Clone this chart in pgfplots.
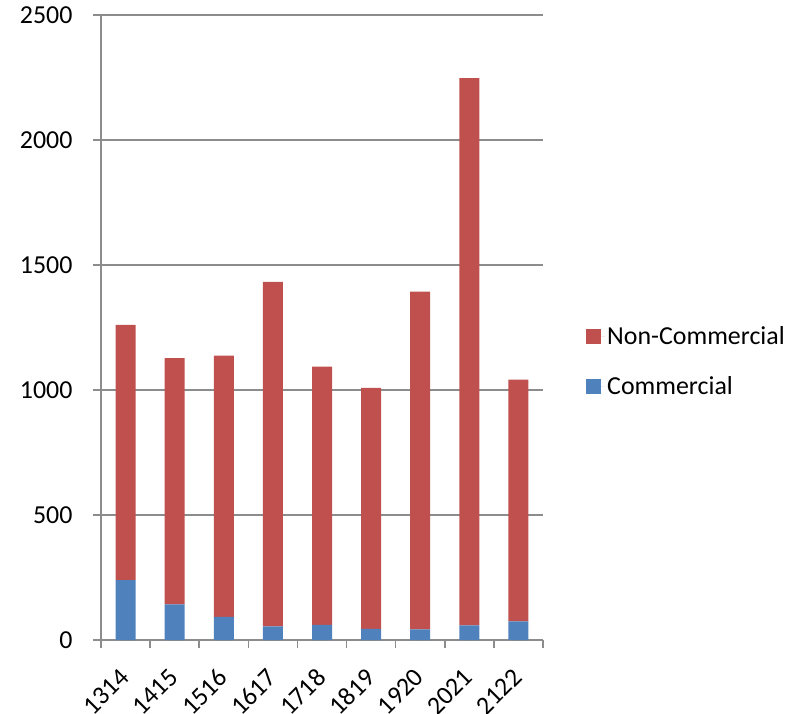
\documentclass[border=0pt]{standalone}
\usepackage{pgfplots}
\pgfplotsset{compat=1.18}
\usepackage{fontspec}
\setmainfont{Carlito}
\definecolor{ncred}{HTML}{C0504D}
\definecolor{cblue}{HTML}{4F81BD}
\definecolor{gridgray}{HTML}{8C8C8C}
\begin{document}
\begin{tikzpicture}
\begin{axis}[
  scale only axis, width=442bp, height=625bp,
  ybar stacked, bar width=20bp,
  xmin=-0.5, xmax=8.5, ymin=0, ymax=2500,
  ytick={0,500,1000,1500,2000,2500},
  xtick={0,1,2,3,4,5,6,7,8},
  xticklabels={1314,1415,1516,1617,1718,1819,1920,2021,2122},
  minor xtick={-0.5,0.5,1.5,2.5,3.5,4.5,5.5,6.5,7.5,8.5},
  axis x line*=bottom, axis y line*=left,
  axis line style={gridgray, line width=1.5bp, -},
  ymajorgrids, grid style={gridgray, line width=1.5bp},
  tick style={gridgray, line width=1.5bp},
  major x tick style={draw=none},
  tick align=outside, major tick length=8bp, minor tick length=8bp,
  /pgf/number format/assume math mode=true,
  scaled y ticks=false,
  ticklabel style={font=\fontsize{26}{31}\selectfont, text=black},
  yticklabel style={/pgf/number format/1000 sep={}, xshift=-17bp},
  xticklabel style={xshift=-7bp, yshift=-16bp, rotate=45, anchor=north east, inner sep=2bp},
  legend style={at={(1,0.446)}, anchor=west, xshift=43bp, draw=none, fill=none,
    font=\fontsize{26}{31}\selectfont, row sep=27bp, inner xsep=0pt,
    /tikz/every even column/.append style={column sep=0bp}},
  legend cell align=left,
  reverse legend,
  legend image code/.code={\fill[#1] (0bp,-7.5bp) rectangle (15bp,7.5bp); \path (0bp,0bp) -- (19bp,0bp);},
]
\addplot[fill=cblue, draw=none] coordinates {(0,240) (1,143) (2,93) (3,55) (4,61) (5,45) (6,43) (7,59) (8,75)};
\addlegendentry{Commercial}
\addplot[fill=ncred, draw=none] coordinates {(0,1020) (1,984) (2,1044) (3,1377) (4,1032) (5,963) (6,1350) (7,2188) (8,966)};
\addlegendentry{Non-Commercial}
\end{axis}
\pgfresetboundingbox
\path (-101bp,-74bp) rectangle (693bp,640bp);
\end{tikzpicture}
\end{document}
